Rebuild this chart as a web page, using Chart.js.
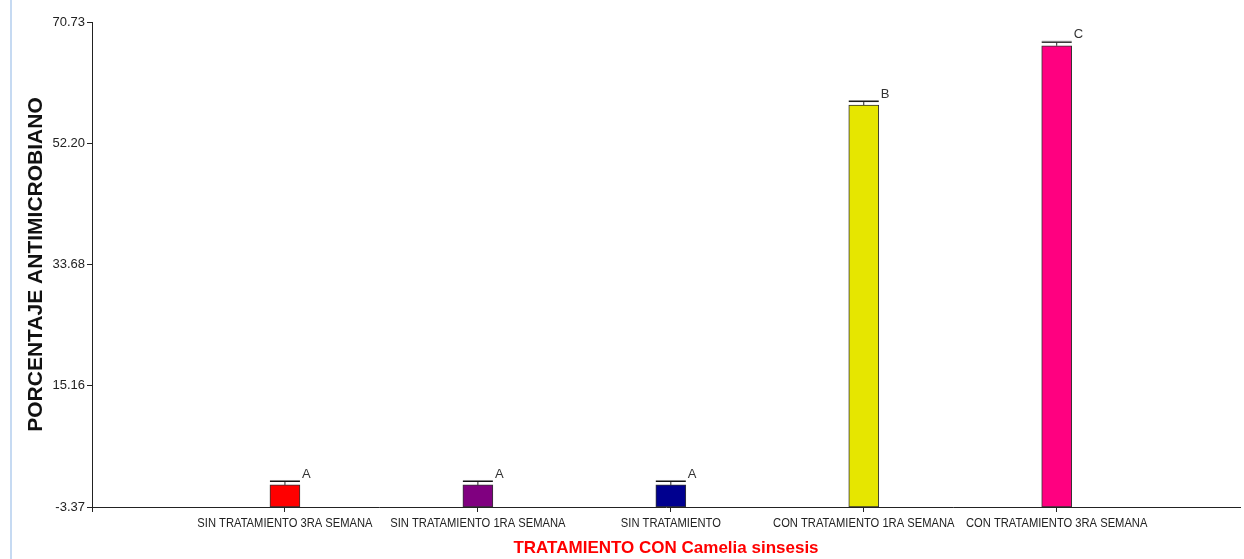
<!DOCTYPE html>
<html>
<head>
<meta charset="utf-8">
<script src="https://cdn.jsdelivr.net/npm/chart.js@4"></script>
<style>
  html, body { margin: 0; padding: 0; background: #fff; }
  #wrap { position: relative; width: 1244px; height: 559px; }
  #edge { position: absolute; left: 10px; top: 0; width: 2px; height: 559px; background: #c6daf2; }
</style>
</head>
<body>
<div id="wrap">
  <div id="edge"></div>
  <canvas id="chart" width="1244" height="559"></canvas>
</div>
<script>
// data
const categories = ['SIN TRATAMIENTO 3RA SEMANA', 'SIN TRATAMIENTO 1RA SEMANA', 'SIN TRATAMIENTO',
                    'CON TRATAMIENTO 1RA SEMANA', 'CON TRATAMIENTO 3RA SEMANA'];
const means = [0.0, 0.0, 0.0, 58.05, 67.1];
const errors = [0.45, 0.45, 0.45, 0.45, 0.45];
const letters = ['A', 'A', 'A', 'B', 'C'];
const yTicks = [-3.37, 15.16, 33.68, 52.20, 70.73];
const barColors = ['#ff0000', '#800080', '#00008f', '#e6e600', '#ff0080'];

// error bars, letters and narrow category labels, placed with the scales
const errorPlugin = {
  id: 'errorBars',
  afterDatasetsDraw(chart) {
    const ctx = chart.ctx;
    const xs = chart.scales.x, ys = chart.scales.y;
    ctx.save();
    means.forEach((m, i) => {
      const cx = xs.getPixelForValue(i + 1);
      const yTop = ys.getPixelForValue(m);
      const yCap = ys.getPixelForValue(m + errors[i]);
      ctx.strokeStyle = '#222';
      ctx.lineWidth = 1;
      ctx.beginPath();
      ctx.moveTo(cx, yTop);
      ctx.lineTo(cx, yCap);
      ctx.stroke();
      ctx.strokeStyle = '#888';
      ctx.beginPath();
      ctx.moveTo(cx - 15, yCap - 1.5);
      ctx.lineTo(cx + 15, yCap - 1.5);
      ctx.stroke();
      ctx.strokeStyle = '#111';
      ctx.beginPath();
      ctx.moveTo(cx - 15, yCap - 0.5);
      ctx.lineTo(cx + 15, yCap - 0.5);
      ctx.stroke();
      ctx.fillStyle = '#333';
      ctx.font = '13px "Liberation Sans", Arial';
      ctx.textAlign = 'left';
      ctx.textBaseline = 'middle';
      ctx.fillText(letters[i], cx + 17, yCap - 8);

      // category label, horizontally condensed like the original
      ctx.save();
      ctx.translate(cx, xs.bottom - 52 + 16);
      ctx.scale(0.86, 1);
      ctx.fillStyle = '#222';
      ctx.font = '13px "Liberation Sans", Arial';
      ctx.textAlign = 'center';
      ctx.fillText(categories[i], 0, 0);
      ctx.restore();
    });
    ctx.restore();
  }
};

new Chart(document.getElementById('chart'), {
  type: 'bar',
  data: {
    datasets: [{
      data: means.map((v, i) => ({ x: i + 1, y: [yTicks[0], v] })),
      backgroundColor: barColors,
      borderColor: '#333',
      borderWidth: 1,
      borderSkipped: false,
      barThickness: 30
    }]
  },
  options: {
    responsive: false,
    animation: false,
    layout: { padding: { top: 22, right: 4, left: 0, bottom: 0 } },
    plugins: { legend: { display: false }, tooltip: { enabled: false } },
    scales: {
      x: {
        type: 'linear',
        offset: false,
        min: 0,
        max: 5.95,
        afterBuildTicks: (s) => { s.ticks = [0, 1, 2, 3, 4, 5].map(v => ({ value: v })); },
        afterFit: (s) => { s.height = 52; },
        ticks: { callback: () => '', maxRotation: 0, autoSkip: false },
        grid: { offset: false, drawOnChartArea: false, drawTicks: true, tickLength: 5, color: '#222' },
        border: { display: true, color: '#222', width: 1 },
        title: {
          display: true,
          text: 'TRATAMIENTO CON Camelia sinsesis',
          color: '#ff0000',
          font: { family: '"Liberation Sans", Arial', size: 17, weight: 'bold' },
          padding: { top: 0, bottom: 0 }
        }
      },
      y: {
        min: yTicks[0],
        max: yTicks[yTicks.length - 1],
        afterBuildTicks: (s) => { s.ticks = yTicks.map(v => ({ value: v })); },
        afterFit: (s) => { s.width = 92; },
        ticks: {
          callback: (v) => v.toFixed(2),
          color: '#222',
          font: { family: '"Liberation Sans", Arial', size: 13 },
          padding: 2
        },
        grid: { drawOnChartArea: false, drawTicks: true, tickLength: 5, color: '#222' },
        border: { display: true, color: '#222', width: 1 },
        title: {
          display: true,
          text: 'PORCENTAJE ANTIMICROBIANO',
          color: '#111',
          font: { family: '"Liberation Sans", Arial', size: 21, weight: 'bold' },
          padding: { top: 24, bottom: 0 }
        }
      }
    }
  },
  plugins: [errorPlugin]
});
</script>
</body>
</html>
